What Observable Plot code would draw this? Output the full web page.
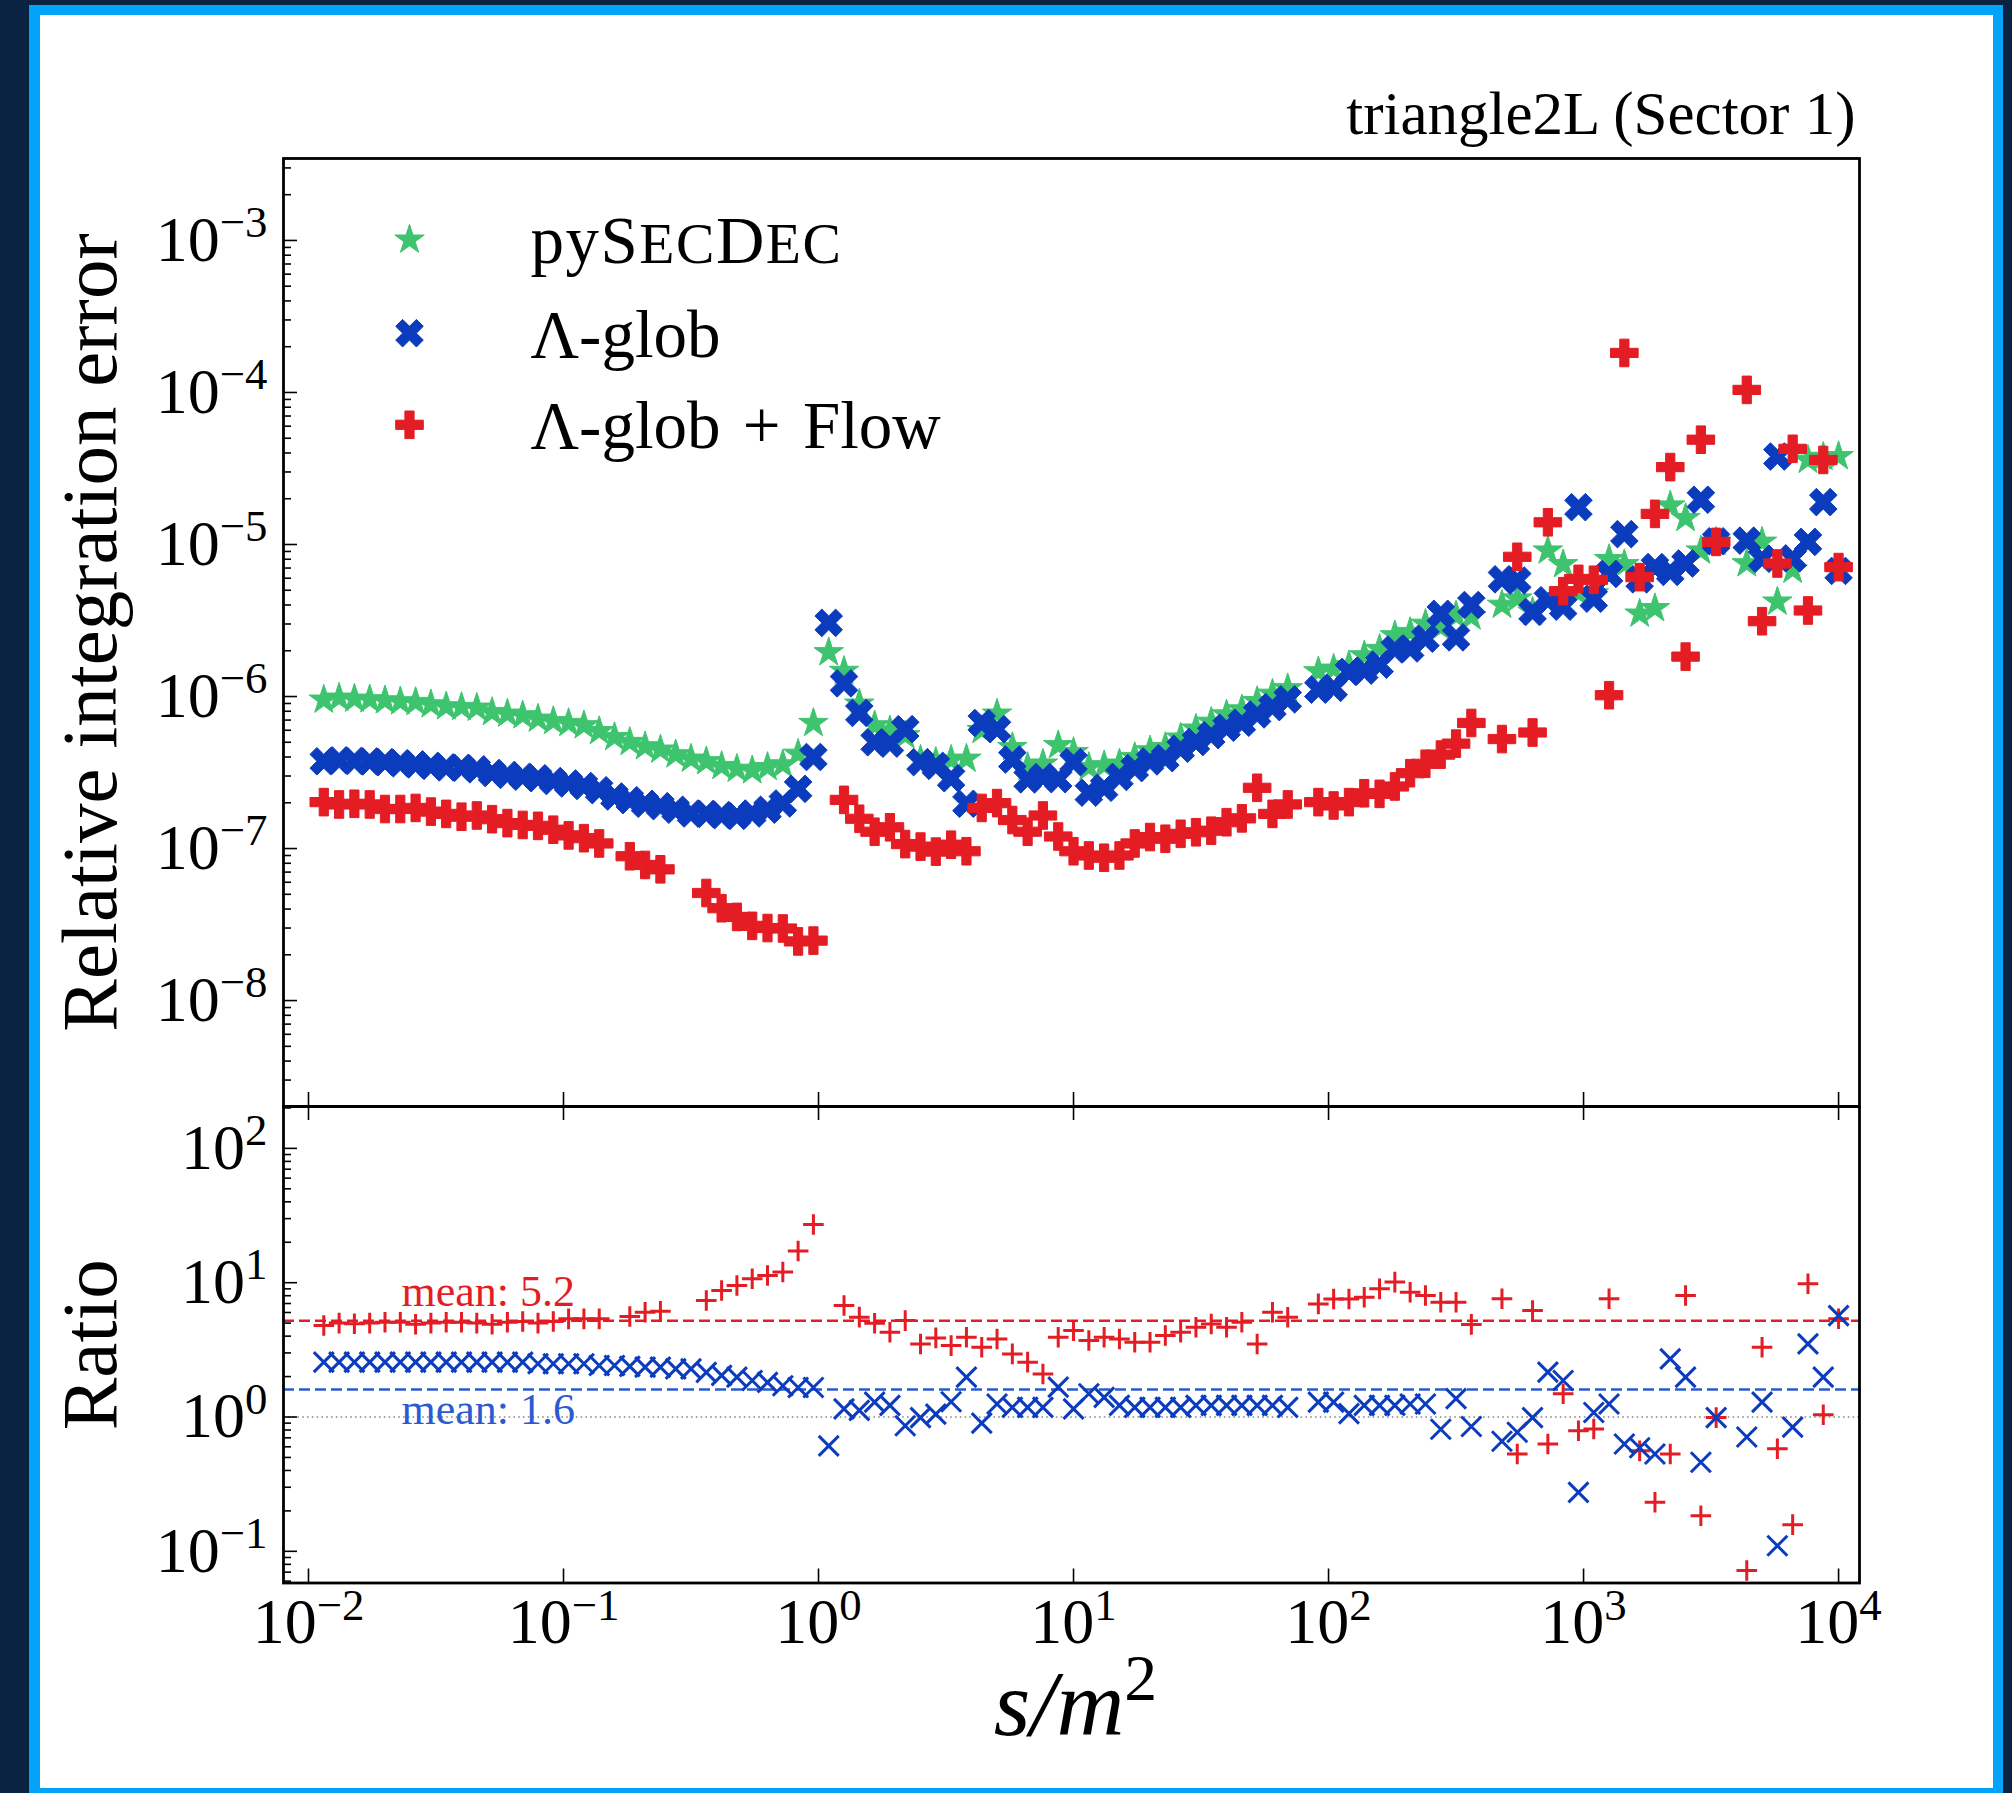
<!DOCTYPE html>
<html><head><meta charset="utf-8">
<script src="https://cdn.jsdelivr.net/npm/d3@7"></script>
<script src="https://cdn.jsdelivr.net/npm/@observablehq/plot@0.6"></script>
<style>
html,body{margin:0;padding:0;background:#0a2342;width:2012px;height:1793px;overflow:hidden;}
#border{position:absolute;left:29px;top:5px;width:1974px;height:1800px;background:#03a3f9;}
#paper{position:absolute;left:40px;top:15px;width:1953px;height:1773px;background:#ffffff;}
#upper,#lower{position:absolute;left:0;}
#upper{top:0px}
#lower{top:1106px}
svg{overflow:visible}
</style></head><body>
<div id="border"></div><div id="paper"></div>
<div id="upper"></div><div id="lower"></div>
<script>
// ---------------- data ----------------
const s = [0.011482,0.013183,0.015136,0.017378,0.019953,0.022909,0.026303,0.030200,0.034674,0.039811,
 0.045709,0.052481,0.060256,0.069183,0.079433,0.091201,0.10471,0.12023,0.13804,0.15849,
 0.18197,0.20893,0.23988,0.27542,0.31623,0.36308,0.41687,0.47863,0.54954,0.63096,
 0.72444,0.83176,0.95499,1.0965,1.2589,1.4454,1.6596,1.9055,2.1878,2.5119,
 2.8840,3.3113,3.8019,4.3652,5.0119,5.7544,6.6069,7.5858,8.7096,10.000,
 11.482,13.183,15.136,17.378,19.953,22.909,26.303,30.200,34.674,39.811,
 45.709,52.481,60.256,69.183,79.433,91.201,104.71,120.23,138.04,158.49,
 181.97,208.93,239.88,275.42,316.23,363.08,416.87,478.63,549.54,630.96,
 724.44,831.76,954.99,1096.5,1258.9,1445.4,1659.6,1905.5,2187.8,2511.9,
 2884.0,3311.3,3801.9,4365.2,5011.9,5754.4,6606.9,7585.8,8709.6,10000];

const pySecDec = [9.51e-7,9.80e-7,9.65e-7,9.56e-7,9.41e-7,9.27e-7,9.18e-7,8.86e-7,8.59e-7,8.51e-7,
 8.42e-7,7.88e-7,7.69e-7,7.50e-7,7.13e-7,6.88e-7,6.68e-7,6.45e-7,5.91e-7,5.40e-7,
 5.01e-7,4.69e-7,4.46e-7,4.15e-7,3.89e-7,3.74e-7,3.48e-7,3.34e-7,3.26e-7,3.43e-7,
 3.57e-7,4.19e-7,6.68e-7,1.95e-6,1.47e-6,8.95e-7,6.44e-7,5.97e-7,5.54e-7,3.83e-7,
 3.70e-7,3.83e-7,3.89e-7,6.0e-7,7.69e-7,4.64e-7,3.43e-7,3.61e-7,4.77e-7,4.30e-7,
 3.43e-7,3.52e-7,3.61e-7,3.99e-7,4.41e-7,4.64e-7,5.35e-7,6.13e-7,6.8e-7,7.6e-7,
 8.2e-7,9.3e-7,1.04e-6,1.13e-6,null,1.46e-6,1.52e-6,1.6e-6,1.86e-6,2.05e-6,
 2.52e-6,2.65e-6,3.0e-6,2.86e-6,3.4e-6,3.35e-6,null,4.0e-6,4.4e-6,3.6e-6,
 9.1e-6,7.4e-6,4.8e-6,4.75e-6,8.0e-6,7.4e-6,3.5e-6,3.8e-6,1.8e-5,1.49e-5,
 9.1e-6,1.04e-5,null,7.5e-6,1.04e-5,4.2e-6,6.8e-6,3.6e-5,3.76e-5,3.8e-5];

const lambdaGlob = [3.75e-7,3.8e-7,3.77e-7,3.74e-7,3.7e-7,3.64e-7,3.58e-7,3.5e-7,3.42e-7,3.4e-7,
 3.32e-7,3.14e-7,3.05e-7,2.97e-7,2.9e-7,2.78e-7,2.68e-7,2.58e-7,2.42e-7,2.2e-7,
 2.08e-7,1.97e-7,1.9e-7,1.8e-7,1.7e-7,1.69e-7,1.66e-7,1.64e-7,1.7e-7,1.8e-7,
 1.98e-7,2.47e-7,4.0e-7,3.05e-6,1.22e-6,7.8e-7,5.0e-7,4.9e-7,6.1e-7,3.7e-7,
 3.5e-7,2.9e-7,1.97e-7,6.7e-7,6.1e-7,3.85e-7,2.85e-7,2.95e-7,2.86e-7,3.7e-7,
 2.33e-7,2.51e-7,2.96e-7,3.38e-7,3.74e-7,3.93e-7,4.53e-7,5.02e-7,5.57e-7,6.23e-7,
 6.72e-7,7.62e-7,8.52e-7,9.58e-7,null,1.11e-6,1.14e-6,1.45e-6,1.48e-6,1.62e-6,
 2.04e-6,2.07e-6,2.4e-6,3.5e-6,2.45e-6,4.0e-6,null,5.9e-6,5.8e-6,3.6e-6,
 4.3e-6,3.9e-6,1.76e-5,4.4e-6,6.4e-6,1.17e-5,5.9e-6,7.1e-6,6.6e-6,7.5e-6,
 1.97e-5,1.05e-5,null,1.06e-5,8.05e-6,3.79e-5,8.1e-6,1.04e-5,1.9e-5,6.7e-6];

const lambdaGlobFlow = [2.02e-7,1.95e-7,1.97e-7,1.95e-7,1.82e-7,1.82e-7,1.85e-7,1.75e-7,1.69e-7,1.62e-7,
 1.65e-7,1.56e-7,1.47e-7,1.43e-7,1.41e-7,1.33e-7,1.22e-7,1.17e-7,1.08e-7,null,
 8.9e-8,7.8e-8,7.3e-8,null,null,5.1e-8,4.05e-8,3.55e-8,3.1e-8,3.0e-8,
 2.98e-8,2.45e-8,2.48e-8,null,2.09e-7,1.57e-7,1.29e-7,1.38e-7,1.07e-7,1.03e-7,
 9.55e-8,1.06e-7,9.6e-8,1.85e-7,1.99e-7,1.54e-7,1.29e-7,1.65e-7,1.20e-7,9.6e-8,
 9.0e-8,8.7e-8,9.0e-8,1.08e-7,1.19e-7,1.16e-7,1.25e-7,1.28e-7,1.31e-7,1.49e-7,
 1.58e-7,2.51e-7,1.69e-7,1.95e-7,null,2.02e-7,1.92e-7,2.02e-7,2.31e-7,2.29e-7,
 2.56e-7,3.13e-7,3.61e-7,4.15e-7,4.9e-7,6.7e-7,null,5.25e-7,8.3e-6,5.8e-7,
 1.40e-5,4.93e-6,5.94e-6,5.86e-6,1.02e-6,1.82e-4,6.1e-6,1.59e-5,3.23e-5,1.83e-6,
 4.89e-5,1.04e-5,null,1.04e-4,3.13e-6,7.5e-6,4.26e-5,3.68e-6,3.6e-5,7.1e-6];

// ratio pySecDec / (Λ-glob + Flow)
const ratioFlow = [4.8,5.0,4.95,5.0,5.08,5.08,4.9,5.0,5.08,5.08,
 5.0,4.9,5.08,5.14,5.0,5.14,5.38,5.38,5.38,null,
 5.6,6.03,6.13,null,null,7.36,8.74,9.53,10.7,11.3,
 12.0,17.2,27.1,null,6.77,5.54,4.99,4.28,5.22,3.5,
 3.88,3.4,3.92,3.31,3.81,2.95,2.56,2.09,3.92,4.40,
 3.71,3.92,3.81,3.6,3.6,4.04,4.28,4.66,4.93,4.66,
 5.08,3.5,6.03,5.53,null,6.95,7.57,7.57,7.79,9.0,
 10.1,8.49,8.02,7.16,7.16,4.89,null,7.59,0.531,6.21,
 0.63,1.49,0.79,0.815,7.59,null,0.56,0.232,0.531,8.03,
 0.184,0.99,null,0.072,3.31,0.58,0.158,9.83,1.04,5.39];

// ratio pySecDec / Λ-glob
const ratioGlob = [2.56,2.56,2.56,2.56,2.56,2.56,2.56,2.56,2.56,2.56,
 2.56,2.56,2.56,2.56,2.49,2.49,2.49,2.49,2.42,2.42,
 2.38,2.35,2.35,2.28,2.28,2.15,2.04,1.98,1.87,1.81,
 1.71,1.66,1.66,0.61,1.15,1.12,1.29,1.22,0.86,0.99,
 1.05,1.3,1.98,0.90,1.25,1.18,1.18,1.18,1.67,1.15,
 1.49,1.40,1.22,1.18,1.18,1.18,1.18,1.22,1.22,1.22,
 1.22,1.22,1.22,1.18,null,1.29,1.29,1.06,1.22,1.22,
 1.22,1.25,1.25,0.81,1.37,0.85,null,0.66,0.77,0.99,
 2.16,1.87,0.275,1.08,1.25,0.63,0.59,0.53,2.71,1.98,
 0.46,0.99,null,0.71,1.29,0.11,0.84,3.5,1.98,5.69];

const meanFlow = 5.2;
const meanGlob = 1.6;
const seriesNames = ["pySecDec", "Λ-glob", "Λ-glob + Flow"];
const titleText = "triangle2L (Sector 1)";
const xTicks = [1e-2, 1e-1, 1, 10, 100, 1000, 1e4];
const yTicksTop = [1e-8, 1e-7, 1e-6, 1e-5, 1e-4, 1e-3];
const yTicksBottom = [1e-1, 1, 10, 100];

// ---------------- style ----------------
const FONT = "'Liberation Serif', 'DejaVu Serif', serif";
const GREEN = "#3ec46f", BLUE = "#0c3cbe", RED = "#e41c23";
const BLUE_LINE = "#2a5bd0";
const X_DOMAIN = [0.00798, 12080];
const Y_DOMAIN_TOP = [2.01e-9, 3.46e-3];
const Y_DOMAIN_BOTTOM = [0.0581, 205];
const W = 2012, ML = 283, MR = 153;
const FW = W - ML - MR;
const H1 = 1106, MT1 = 158, FH1 = H1 - MT1;
const H2 = 687, MB2 = 210.5, FH2 = H2 - MB2;

function minorTicks(domain) {
  const out = [];
  for (let e = -10; e <= 3; e++) for (let m = 2; m <= 9; m++) {
    const v = m * Math.pow(10, e);
    if (v >= domain[0] && v <= domain[1]) out.push(v);
  }
  return out;
}

// symbols (matplotlib-like)
const starSym = {draw(ctx, size) {
  const R = Math.sqrt(size / Math.PI), ri = R * 0.381966;
  for (let i = 0; i < 10; ++i) {
    const a = -Math.PI / 2 + i * Math.PI / 5, rr = i % 2 ? ri : R;
    const px = rr * Math.cos(a), py = rr * Math.sin(a);
    if (i) ctx.lineTo(px, py); else ctx.moveTo(px, py);
  }
  ctx.closePath();
}};
const X_VERTS = [[-1,-2],[0,-1],[1,-2],[2,-1],[1,0],[2,1],[1,2],[0,1],[-1,2],[-2,1],[-1,0],[-2,-1]];
const P_VERTS = [[-1,-3],[1,-3],[1,-1],[3,-1],[3,1],[1,1],[1,3],[-1,3],[-1,1],[-3,1],[-3,-1],[-1,-1]];
function polySym(verts, k) {
  return {draw(ctx, size) {
    const h = Math.sqrt(size / Math.PI) / k;
    verts.forEach(([a, b], i) => i ? ctx.lineTo(a * h, b * h) : ctx.moveTo(a * h, b * h));
    ctx.closePath();
  }};
}
const xFilled = polySym(X_VERTS, 2), plusFilled = polySym(P_VERTS, 3);
const plusThin = {draw(ctx, size) { const h = Math.sqrt(size / Math.PI);
  ctx.moveTo(-h, 0); ctx.lineTo(h, 0); ctx.moveTo(0, -h); ctx.lineTo(0, h); }};
const timesThin = {draw(ctx, size) { const h = Math.sqrt(size / Math.PI);
  ctx.moveTo(-h, -h); ctx.lineTo(h, h); ctx.moveTo(-h, h); ctx.lineTo(h, -h); }};

const rows = s.map((v, i) => ({s: v, g: pySecDec[i], b: lambdaGlob[i], r: lambdaGlobFlow[i],
  qf: ratioFlow[i], qg: ratioGlob[i]}));

const fmtPow = d => "10^" + String(Math.round(Math.log10(d))).replace("-", "\u2212");
const svgStyle = {background: "transparent", overflow: "visible", fontFamily: FONT, color: "black"};
const tickCommon = {stroke: "black", strokeWidth: 1.6};

const R_STAR = 15.5, R_X = 13.8, R_P = 13.8;
const legendItems = [
  {name: seriesNames[0], symbol: starSym, color: GREEN, r: R_STAR, dy: 81.3},
  {name: seriesNames[1], symbol: xFilled, color: BLUE, r: R_X, dy: 174.7},
  {name: seriesNames[2], symbol: plusFilled, color: RED, r: R_P, dy: 266.3}
];

// ---------------- upper panel ----------------
const upper = Plot.plot({
  width: W, height: H1,
  marginLeft: ML, marginRight: MR, marginTop: MT1, marginBottom: 0,
  x: {type: "log", domain: X_DOMAIN, axis: null, label: null},
  y: {type: "log", domain: Y_DOMAIN_TOP, label: null},
  style: svgStyle,
  marks: [
    Plot.dot(rows, {x: "s", y: "g", symbol: starSym, r: R_STAR, fill: GREEN, stroke: GREEN, strokeWidth: 1}),
    Plot.dot(rows, {x: "s", y: "b", symbol: xFilled, r: R_X, fill: BLUE, stroke: BLUE, strokeWidth: 1}),
    Plot.dot(rows, {x: "s", y: "r", symbol: plusFilled, r: R_P, fill: RED, stroke: RED, strokeWidth: 1}),
    Plot.tickY(minorTicks(Y_DOMAIN_TOP), {y: d => d, insetRight: FW - 8, ...tickCommon}),
    Plot.tickY(yTicksTop, {y: d => d, insetRight: FW - 14, ...tickCommon}),
    Plot.tickX(xTicks, {x: d => d, insetTop: FH1 - 14, ...tickCommon}),
    Plot.axisY(yTicksTop, {tickSize: 0, tickPadding: 16, tickFormat: fmtPow, label: null,
      fontSize: 64, fontFamily: FONT, fill: "black"}),
    Plot.frame({stroke: "black", strokeWidth: 2.8}),
    ...legendItems.map(it => Plot.dot([it], {frameAnchor: "top-left", dx: 126, dy: it.dy,
      symbol: it.symbol, r: it.r, fill: it.color, stroke: it.color, strokeWidth: 1})),
    ...legendItems.map(it => Plot.text([it], {frameAnchor: "top-left", dx: 247, dy: it.dy + 23.5,
      text: d => d.name, textAnchor: "start", lineAnchor: "bottom", fontSize: 67, fontFamily: FONT, fill: "black"})),
    Plot.text([titleText], {frameAnchor: "top-right", dx: -4, dy: -25, text: d => d,
      textAnchor: "end", lineAnchor: "bottom", fontSize: 61, fontFamily: FONT, fill: "black"}),
    Plot.text(["Relative integration error"], {frameAnchor: "left", dx: -168, rotate: -90, text: d => d,
      textAnchor: "middle", lineAnchor: "bottom", fontSize: 79, fontFamily: FONT, fill: "black"})
  ]
});

// ---------------- lower panel ----------------
const lower = Plot.plot({
  width: W, height: H2,
  marginLeft: ML, marginRight: MR, marginTop: 0, marginBottom: MB2,
  x: {type: "log", domain: X_DOMAIN, label: null},
  y: {type: "log", domain: Y_DOMAIN_BOTTOM, label: null},
  style: svgStyle,
  marks: [
    Plot.ruleY([1], {stroke: "#888888", strokeWidth: 1.5, strokeDasharray: "1.6,3.2"}),
    Plot.ruleY([meanFlow], {stroke: RED, strokeWidth: 2.5, strokeDasharray: "11,5"}),
    Plot.ruleY([meanGlob], {stroke: BLUE_LINE, strokeWidth: 2.5, strokeDasharray: "11,5"}),
    Plot.dot(rows, {x: "s", y: "qf", symbol: plusThin, r: 10.3, fill: "none", stroke: RED, strokeWidth: 3}),
    Plot.dot(rows, {x: "s", y: "qg", symbol: timesThin, r: 10, fill: "none", stroke: BLUE, strokeWidth: 3}),
    Plot.text([meanFlow], {y: d => d, frameAnchor: "left", dx: 118, dy: -15, text: d => "mean: " + d.toFixed(1),
      textAnchor: "start", lineAnchor: "bottom", fontSize: 44, fontFamily: FONT, fill: RED}),
    Plot.text([meanGlob], {y: d => d, frameAnchor: "left", dx: 118, dy: 34, text: d => "mean: " + d.toFixed(1),
      textAnchor: "start", lineAnchor: "bottom", fontSize: 44, fontFamily: FONT, fill: BLUE_LINE}),
    Plot.tickY(minorTicks(Y_DOMAIN_BOTTOM), {y: d => d, insetRight: FW - 8, ...tickCommon}),
    Plot.tickY(yTicksBottom, {y: d => d, insetRight: FW - 14, ...tickCommon}),
    Plot.tickX(xTicks, {x: d => d, insetTop: FH2 - 14, ...tickCommon}),
    Plot.tickX(xTicks, {x: d => d, insetBottom: FH2 - 14, ...tickCommon}),
    Plot.axisY(yTicksBottom, {tickSize: 0, tickPadding: 16, tickFormat: fmtPow, label: null,
      fontSize: 64, fontFamily: FONT, fill: "black"}),
    Plot.axisX(xTicks, {tickSize: 0, tickPadding: 15, tickFormat: fmtPow, label: null,
      fontSize: 64, fontFamily: FONT, fill: "black"}),
    Plot.frame({stroke: "black", strokeWidth: 2.8}),
    Plot.text(["Ratio"], {frameAnchor: "left", dx: -168, rotate: -90, text: d => d,
      textAnchor: "middle", lineAnchor: "bottom", fontSize: 79, fontFamily: FONT, fill: "black"}),
    Plot.text(["s/m^2"], {frameAnchor: "bottom", dx: 4, dy: 152, text: d => d,
      textAnchor: "middle", lineAnchor: "bottom", fontSize: 94, fontStyle: "italic", fontFamily: FONT, fill: "black"})
  ]
});

document.getElementById("upper").appendChild(upper);
document.getElementById("lower").appendChild(lower);

// superscripts and small caps as real SVG text
const NS = "http://www.w3.org/2000/svg";
function addSpan(el, text, attrs) {
  const ts = document.createElementNS(NS, "tspan");
  for (const k in attrs) ts.setAttribute(k, attrs[k]);
  ts.textContent = text;
  el.appendChild(ts);
}
function finishText(svg) {
  svg.querySelectorAll("text").forEach(el => {
    if (el.querySelector("tspan")) return;
    const t = el.textContent;
    const fs = parseFloat(getComputedStyle(el).fontSize) || 64;
    const i = t.indexOf("^");
    if (i >= 0) {
      el.textContent = t.slice(0, i);
      addSpan(el, t.slice(i + 1), {dy: (-0.37 * fs).toFixed(1), "font-size": (0.7 * fs).toFixed(1), "font-style": "normal"});
    } else if (t === "pySecDec") {
      // small capitals: S and D full size, "ec" as reduced capitals
      el.textContent = "pyS";
      el.setAttribute("letter-spacing", "1.5");
      const sc = (0.86 * fs).toFixed(1);
      addSpan(el, "EC", {"font-size": sc});
      addSpan(el, "D", {"font-size": fs.toFixed(1)});
      addSpan(el, "EC", {"font-size": sc});
    } else if (t === "Λ-glob + Flow") {
      el.textContent = "Λ-glob\u2004+\u2004Flow";
    }
  });
}
finishText(upper);
finishText(lower);
</script>
</body></html>
